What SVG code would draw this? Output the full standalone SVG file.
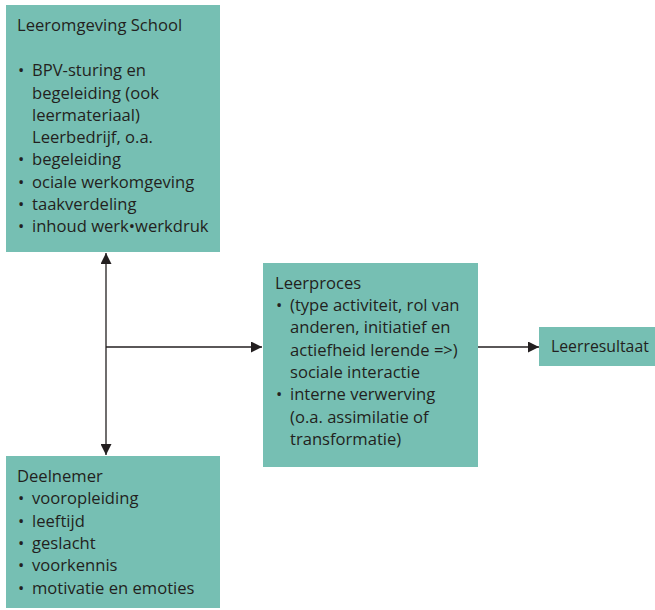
<svg xmlns="http://www.w3.org/2000/svg" width="655" height="610" viewBox="0 0 655 610">
<defs>
<style>
.box{fill:#76bfb3;}
text{font-family:"Open Sans","Noto Sans",sans-serif;font-size:16.6px;fill:#231f20;}
.ln{stroke:#231f20;stroke-width:1.3;fill:none;}
</style>
<marker id="ah" viewBox="0 0 10 10" refX="10" refY="5" markerWidth="11" markerHeight="11" markerUnits="userSpaceOnUse" orient="auto-start-reverse">
<path d="M0,0 L10,5 L0,10 z" fill="#231f20"/>
</marker>
</defs>
<rect width="655" height="610" fill="#fff"/>
<g id="connectors">
<line class="ln" x1="106" y1="253" x2="106" y2="455" marker-start="url(#ah)" marker-end="url(#ah)"/>
<line class="ln" x1="106" y1="347" x2="262" y2="347" marker-end="url(#ah)"/>
<line class="ln" x1="478" y1="347" x2="539" y2="347" marker-end="url(#ah)"/>
</g>
<g id="school">
<rect class="box" x="6" y="5" width="214" height="247"/>
<text x="17" y="31">Leeromgeving School</text>
<text x="18" y="76">•</text><text x="32" y="76">BPV-sturing en</text>
<text x="32" y="98.5">begeleiding (ook</text>
<text x="32" y="121">leermateriaal)</text>
<text x="32" y="143">Leerbedrijf, o.a.</text>
<text x="18" y="165">•</text><text x="32" y="165">begeleiding</text>
<text x="18" y="188">•</text><text x="32" y="188">ociale werkomgeving</text>
<text x="18" y="210">•</text><text x="32" y="210">taakverdeling</text>
<text x="18" y="232">•</text><text x="32" y="232">inhoud werk•werkdruk</text>
</g>
<g id="deelnemer">
<rect class="box" x="6" y="456" width="214" height="152"/>
<text x="17" y="482">Deelnemer</text>
<text x="18" y="504">•</text><text x="32" y="504">vooropleiding</text>
<text x="18" y="527">•</text><text x="32" y="527">leeftijd</text>
<text x="18" y="549">•</text><text x="32" y="549">geslacht</text>
<text x="18" y="571">•</text><text x="32" y="571">voorkennis</text>
<text x="18" y="594">•</text><text x="32" y="594">motivatie en emoties</text>
</g>
<g id="leerproces">
<rect class="box" x="263" y="263" width="215" height="204"/>
<text x="275" y="289">Leerproces</text>
<text x="276" y="311">•</text><text x="290" y="311">(type activiteit, rol van</text>
<text x="290" y="333">anderen, initiatief en</text>
<text x="290" y="356">actiefheid lerende =&gt;)</text>
<text x="290" y="378">sociale interactie</text>
<text x="276" y="400">•</text><text x="290" y="400">interne verwerving</text>
<text x="290" y="423">(o.a. assimilatie of</text>
<text x="290" y="445">transformatie)</text>
</g>
<g id="leerresultaat">
<rect class="box" x="539" y="327" width="116" height="39"/>
<text x="551" y="352" style="font-size:15.8px">Leerresultaat</text>
</g>
</svg>
